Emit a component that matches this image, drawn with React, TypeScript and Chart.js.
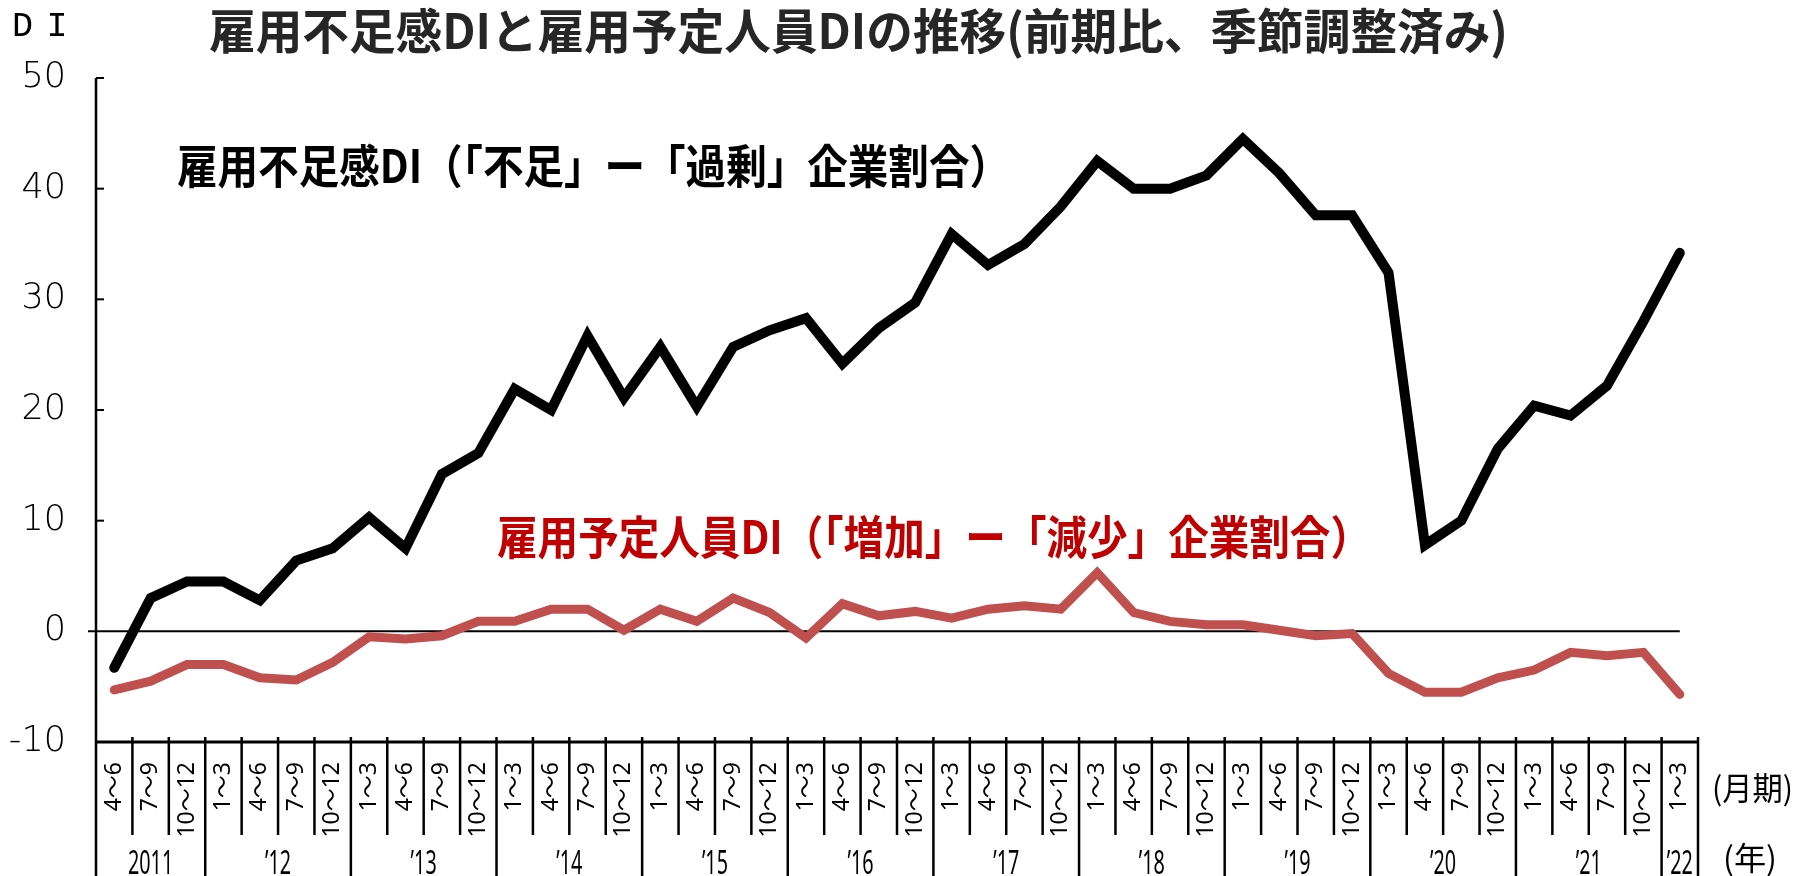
import { useEffect, useRef } from "react";
import { Chart, registerables } from "chart.js";

Chart.register(...registerables);

// ---- data ----
const yearLabels = ["2011", "’12", "’13", "’14", "’15", "’16", "’17", "’18", "’19", "’20", "’21", "’22"];
const yearQuarterCounts = [3, 4, 4, 4, 4, 4, 4, 4, 4, 4, 4, 1];
const quarterNames = ["1～3", "4～6", "7～9", "10～12"];
const yTicks = [-10, 0, 10, 20, 30, 40, 50];

// 雇用不足感DI（「不足」－「過剰」企業割合）
const shortageDI = [
  -3.3, 3.0, 4.5,
  4.5, 2.8, 6.4, 7.5,
  10.3, 7.5, 14.2, 16.1,
  21.9, 20.0, 26.7, 21.1,
  25.7, 20.3, 25.7, 27.2,
  28.3, 24.2, 27.4, 29.7,
  35.9, 33.1, 35.0, 38.4,
  42.5, 40.0, 40.0, 41.2,
  44.5, 41.4, 37.6, 37.6,
  32.4, 7.8, 10.0, 16.5,
  20.4, 19.5, 22.2, 28.0,
  34.2,
];

// 雇用予定人員DI（「増加」－「減少」企業割合）
const hiringDI = [
  -5.3, -4.5, -3.0,
  -3.0, -4.2, -4.4, -2.8,
  -0.5, -0.7, -0.4, 0.9,
  0.9, 2.0, 2.0, 0.1,
  2.0, 0.9, 3.0, 1.7,
  -0.6, 2.5, 1.4, 1.8,
  1.2, 2.0, 2.3, 2.0,
  5.3, 1.7, 0.9, 0.6,
  0.6, 0.1, -0.4, -0.2,
  -3.8, -5.5, -5.5, -4.2,
  -3.5, -1.9, -2.2, -1.9,
  -5.7,
];

const titleText = "雇用不足感DIと雇用予定人員DIの推移(前期比、季節調整済み)";
const shortageLabel = "雇用不足感DI（「不足」ー「過剰」企業割合）";
const hiringLabel = "雇用予定人員DI（「増加」ー「減少」企業割合）";

// build category labels from the year/quarter lists
const quarterLabels: string[] = [];
const yearOfQuarter: number[] = [];
yearQuarterCounts.forEach((count, yi) => {
  const start = yi === 0 ? 4 - count : 0;
  for (let j = 0; j < count; j++) {
    quarterLabels.push(quarterNames[start + j]);
    yearOfQuarter.push(yi);
  }
});

const CJK = '"Noto Sans CJK JP"';

function fitText(
  ctx: CanvasRenderingContext2D,
  s: string,
  x0: number,
  x1: number,
  yc: number,
  font: string,
  color: string
) {
  ctx.save();
  ctx.font = font;
  const w = ctx.measureText(s).width;
  const sx = (x1 - x0) / w;
  ctx.translate(x0, yc);
  ctx.scale(sx, 1);
  ctx.fillStyle = color;
  ctx.textAlign = "left";
  ctx.textBaseline = "middle";
  ctx.fillText(s, 0, 0);
  ctx.restore();
}

function drawText(
  ctx: CanvasRenderingContext2D,
  s: string,
  x: number,
  y: number,
  font: string,
  color: string,
  align: CanvasTextAlign,
  baseline: CanvasTextBaseline,
  sx = 1,
  rot = 0
) {
  ctx.save();
  ctx.translate(x, y);
  if (rot) ctx.rotate(rot);
  ctx.scale(sx, 1);
  ctx.font = font;
  ctx.fillStyle = color;
  ctx.textAlign = align;
  ctx.textBaseline = baseline;
  ctx.fillText(s, 0, 0);
  ctx.restore();
}

const decorPlugin = {
  id: "decor",
  beforeDatasetsDraw(chart: any) {
    const { ctx, chartArea, scales } = chart;
    const y0 = scales.y.getPixelForValue(0);
    const xEnd = scales.x.getPixelForValue(quarterLabels.length - 1);
    ctx.save();
    ctx.strokeStyle = "#000";
    ctx.lineWidth = 2;
    ctx.beginPath();
    ctx.moveTo(chartArea.left - 8, y0);
    ctx.lineTo(xEnd, y0);
    ctx.stroke();
    ctx.restore();
  },
  afterDraw(chart: any) {
    const { ctx, chartArea, scales } = chart;
    const xs = scales.x;
    const ys = scales.y;
    const left = chartArea.left;
    const bottom = chartArea.bottom;
    const band = xs.getPixelForValue(1) - xs.getPixelForValue(0);
    const H = chart.height;

    ctx.save();
    ctx.strokeStyle = "#000";
    ctx.lineCap = "butt";

    // y axis
    ctx.lineWidth = 2.5;
    ctx.beginPath();
    ctx.moveTo(left, ys.getPixelForValue(50));
    ctx.lineTo(left, H);
    ctx.stroke();

    // y ticks + labels
    ctx.lineWidth = 2;
    yTicks.forEach((v) => {
      const py = ys.getPixelForValue(v);
      if (v !== -10 && v !== 0) {
        ctx.beginPath();
        ctx.moveTo(left, py);
        ctx.lineTo(left + 8, py);
        ctx.stroke();
      }
      drawText(ctx, String(v), 66, py, '200 35px "DejaVu Sans"', "#000", "right", "middle");
    });

    // x axis line
    ctx.lineWidth = 3;
    ctx.beginPath();
    ctx.moveTo(left, bottom);
    ctx.lineTo(left + band * quarterLabels.length, bottom);
    ctx.stroke();

    // separators
    ctx.lineWidth = 2.5;
    for (let i = 1; i <= quarterLabels.length; i++) {
      const px = left + band * i;
      const isYearEdge = i === quarterLabels.length || yearOfQuarter[i] !== yearOfQuarter[i - 1];
      ctx.beginPath();
      ctx.moveTo(px, bottom - 5);
      ctx.lineTo(px, isYearEdge ? H : 835);
      ctx.stroke();
    }

    // quarter labels (rotated)
    quarterLabels.forEach((q, i) => {
      const cx = xs.getPixelForValue(i);
      drawText(ctx, q, cx, 762, `23px "Noto Sans", ${CJK}`, "#000", "right", "middle", 1, -Math.PI / 2);
    });

    // year labels
    let idx = 0;
    yearQuarterCounts.forEach((count, yi) => {
      const x0 = left + band * idx;
      const x1 = left + band * (idx + count);
      drawText(ctx, yearLabels[yi], (x0 + x1) / 2, 865, '33px "Noto Sans"', "#000", "center", "middle", 0.6);
      idx += count;
    });

    // unit labels
    fitText(ctx, "(月期)", 1712, 1793, 788, `32px ${CJK}`, "#000");
    fitText(ctx, "(年)", 1723, 1777, 858, `32px ${CJK}`, "#000");

    // DI label
    drawText(ctx, "D", 12, 27, '35px "Liberation Mono"', "#000", "left", "middle");
    drawText(ctx, "I", 57, 27, '35px "Liberation Mono"', "#000", "center", "middle");

    // title
    fitText(ctx, titleText, 209, 1508, 31, `bold 48px ${CJK}`, "#262626");

    // series annotations
    fitText(ctx, shortageLabel, 177, 1010, 166, `bold 46px ${CJK}`, "#000");
    fitText(ctx, hiringLabel, 497, 1371, 537, `bold 46px ${CJK}`, "#c00000");

    ctx.restore();
  },
};

export default function App() {
  const canvasRef = useRef<HTMLCanvasElement | null>(null);

  useEffect(() => {
    const canvas = canvasRef.current;
    if (!canvas) return;
    const chart = new Chart(canvas, {
      type: "line",
      data: {
        labels: quarterLabels,
        datasets: [
          {
            label: hiringLabel,
            data: hiringDI,
            borderColor: "#c0504d",
            backgroundColor: "#c0504d",
            borderWidth: 9,
            pointRadius: 0,
            tension: 0,
            borderCapStyle: "round",
            borderJoinStyle: "miter",
          },
          {
            label: shortageLabel,
            data: shortageDI,
            borderColor: "#000000",
            backgroundColor: "#000000",
            borderWidth: 10,
            pointRadius: 0,
            tension: 0,
            borderCapStyle: "round",
            borderJoinStyle: "miter",
          },
        ],
      },
      options: {
        responsive: false,
        animation: false,
        devicePixelRatio: 1,
        layout: { padding: { left: 96, right: 106, top: 78, bottom: 134 } },
        scales: {
          x: { type: "category", offset: true, display: false },
          y: { min: -10, max: 50, display: false },
        },
        plugins: {
          legend: { display: false },
          tooltip: { enabled: false },
          title: { display: false },
        },
      },
      plugins: [decorPlugin],
    });
    if ((document as any).fonts && (document as any).fonts.ready) {
      (document as any).fonts.ready.then(() => chart.update());
    }
    return () => chart.destroy();
  }, []);

  return (
    <div style={{ position: "fixed", left: 0, top: 0, width: 1804, height: 876, background: "#fff" }}>
      <canvas ref={canvasRef} width={1804} height={876} style={{ display: "block" }} />
    </div>
  );
}
